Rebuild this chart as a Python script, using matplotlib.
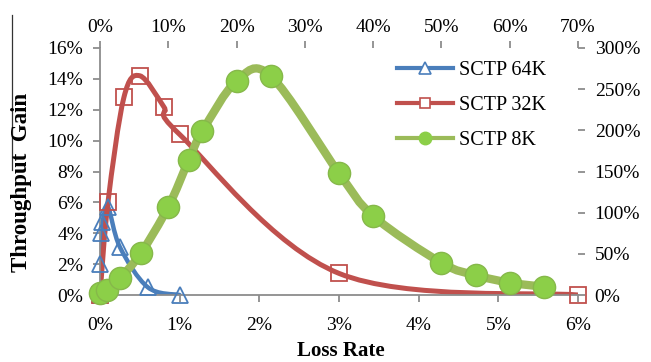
#!/usr/bin/env python3

import matplotlib
matplotlib.use("Agg")
import matplotlib.pyplot as plt
import numpy as np
from matplotlib.path import Path
from matplotlib.patches import PathPatch
from matplotlib.lines import Line2D
from matplotlib.ticker import PercentFormatter, MultipleLocator

# loss rate (%) vs throughput gain (%)
loss_64k = [0.0, 0.005, 0.01, 0.03, 0.1, 0.25, 0.6, 1.0]
gain_64k = [0.0, 2.0, 4.0, 4.7, 5.7, 3.1, 0.5, 0.0]

loss_32k = [0.0, 0.1, 0.3, 0.5, 0.8, 1.0, 3.0, 6.0]
gain_32k = [0.0, 6.0, 12.8, 14.2, 12.2, 10.4, 1.4, 0.0]

# 8K goes on the top / right scales
loss_8k = [0, 1, 3, 6, 10, 13, 15, 20, 25, 35, 40, 50, 55, 60, 65]
gain_8k = [2, 6, 21, 51, 107, 164, 199, 260, 266, 148, 96, 39, 24, 15, 10]

BLUE = "#4A7EBB"
RED = "#C0504D"
GREEN = "#9BBB59"
GREEN_DOT = "#8CCF48"
GRAY = "#8C8C8C"
FONT = "Liberation Serif"


def smooth_path(x, y):
    # excel style smoothed line: cubic bezier through every point
    p = np.column_stack([x, y]).astype(float)
    n = len(p)
    verts = [p[0]]
    codes = [Path.MOVETO]
    for i in range(n - 1):
        p0 = p[i - 1] if i > 0 else p[i]
        p3 = p[i + 2] if i + 2 < n else p[i + 1]
        c1 = p[i] + (p[i + 1] - p0) / 6.0
        c2 = p[i + 1] - (p3 - p[i]) / 6.0
        verts += [c1, c2, p[i + 1]]
        codes += [Path.CURVE4] * 3
    return Path(verts, codes)


def style_axis(ax):
    for s in ax.spines.values():
        s.set_color(GRAY)
        s.set_linewidth(1.3)
    ax.tick_params(colors=GRAY, width=1.3, length=5, labelcolor="black",
                   labelsize=14, pad=7)
    for t in ax.get_xticklabels() + ax.get_yticklabels():
        t.set_fontfamily(FONT)


def main():
    fig = plt.figure(figsize=(6.51, 3.62), dpi=100)
    pos = [100 / 651, 1 - 295 / 362, 478 / 651, 247 / 362]

    ax = fig.add_axes(pos)
    ax.set_xlim(0, 6)
    ax.set_ylim(0, 16)
    ax.xaxis.set_major_locator(MultipleLocator(1))
    ax.yaxis.set_major_locator(MultipleLocator(2))
    ax.xaxis.set_major_formatter(PercentFormatter(decimals=0))
    ax.yaxis.set_major_formatter(PercentFormatter(decimals=0))
    ax.spines["top"].set_visible(False)
    ax.spines["right"].set_visible(False)
    style_axis(ax)
    ax.tick_params(axis="x", pad=11)

    ax.add_patch(PathPatch(smooth_path(loss_64k, gain_64k), fill=False,
                           edgecolor=BLUE, lw=3.2, capstyle="round", zorder=2))
    ax.plot(loss_64k, gain_64k, ls="none", marker="^", ms=12, mfc="none",
            mec=BLUE, mew=1.3, clip_on=False, zorder=3)

    ax.add_patch(PathPatch(smooth_path(loss_32k, gain_32k), fill=False,
                           edgecolor=RED, lw=3.6, capstyle="round", zorder=2))
    ax.plot(loss_32k, gain_32k, ls="none", marker="s", ms=12, mfc="none",
            mec=RED, mew=1.3, clip_on=False, zorder=3)

    ax2 = fig.add_axes(pos, frameon=False)
    ax2.set_xlim(0, 70)
    ax2.set_ylim(0, 300)
    ax2.xaxis.tick_top()
    ax2.yaxis.tick_right()
    ax2.xaxis.set_major_locator(MultipleLocator(10))
    ax2.yaxis.set_major_locator(MultipleLocator(50))
    ax2.xaxis.set_major_formatter(PercentFormatter(decimals=0))
    ax2.yaxis.set_major_formatter(PercentFormatter(decimals=0))
    ax2.spines["top"].set_visible(True)
    ax2.spines["right"].set_visible(True)
    ax2.spines["left"].set_visible(False)
    ax2.spines["bottom"].set_visible(False)
    style_axis(ax2)
    ax2.tick_params(axis="x", pad=4)

    ax2.add_patch(PathPatch(smooth_path(loss_8k, gain_8k), fill=False,
                            edgecolor=GREEN, lw=6, capstyle="round", zorder=2))
    ax2.plot(loss_8k, gain_8k, ls="none", marker="o", ms=16, mfc=GREEN_DOT,
             mec="#86B84A", mew=1.0, clip_on=False, zorder=3)

    handles = [
        Line2D([], [], color=BLUE, lw=3, marker="^", ms=8, mfc="white", mec=BLUE, mew=1.2),
        Line2D([], [], color=RED, lw=3, marker="s", ms=7, mfc="white", mec=RED, mew=1.2),
        Line2D([], [], color=GREEN, lw=3, marker="o", ms=9, mfc=GREEN_DOT, mec=GREEN_DOT),
    ]
    ax2.legend(handles, ["SCTP 64K", "SCTP 32K", "SCTP 8K"], loc="upper left",
               bbox_to_anchor=(397 / 651, 1 - 61 / 362), bbox_transform=fig.transFigure,
               frameon=False, borderpad=0, borderaxespad=0, handlelength=2.8,
               handletextpad=0.3, labelspacing=0.78,
               prop={"family": FONT, "size": 14.5})

    fig.text(22 / 651, 1 - 182 / 362, "Throughput  Gain", rotation=90,
             ha="center", va="center", family=FONT, fontweight="bold", fontsize=16.5)
    fig.text(341 / 651, 1 / 362, "Loss Rate", ha="center", va="bottom",
             family=FONT, fontweight="bold", fontsize=15)
    fig.add_artist(Line2D([12 / 651, 12 / 651], [1 - 15 / 362, 1 - 170 / 362],
                          color="#333333", lw=0.9))

    fig.savefig("out.png", dpi=100)
    plt.close()


if __name__ == "__main__":
    main()
